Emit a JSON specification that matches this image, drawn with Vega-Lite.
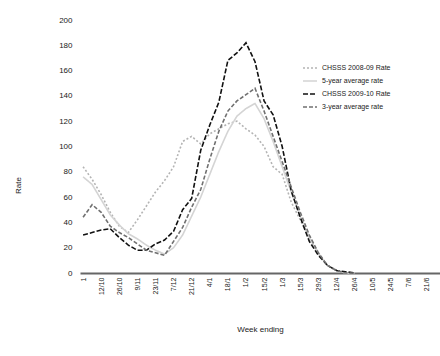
{
"$schema": "https://vega.github.io/schema/vega-lite/v6.json",
"width": 360,
"height": 253,
"autosize": {"type": "none"},
"padding": {"left": 80, "top": 20, "right": 0, "bottom": 83},
"background": "white",
"config": {"view": {"stroke": null}, "font": "Liberation Sans"},
"data": {"values": [
{"s":"CHSSS 2008-09 Rate","t":0,"v":84},{"s":"CHSSS 2008-09 Rate","t":0.5,"v":74},{"s":"CHSSS 2008-09 Rate","t":1,"v":62},{"s":"CHSSS 2008-09 Rate","t":1.5,"v":48},{"s":"CHSSS 2008-09 Rate","t":2,"v":37},{"s":"CHSSS 2008-09 Rate","t":2.5,"v":32},{"s":"CHSSS 2008-09 Rate","t":3,"v":42},{"s":"CHSSS 2008-09 Rate","t":3.5,"v":53},{"s":"CHSSS 2008-09 Rate","t":4,"v":64},{"s":"CHSSS 2008-09 Rate","t":4.5,"v":73},{"s":"CHSSS 2008-09 Rate","t":5,"v":84},{"s":"CHSSS 2008-09 Rate","t":5.5,"v":104},{"s":"CHSSS 2008-09 Rate","t":6,"v":108},{"s":"CHSSS 2008-09 Rate","t":6.5,"v":102},{"s":"CHSSS 2008-09 Rate","t":7,"v":110},{"s":"CHSSS 2008-09 Rate","t":7.5,"v":114},{"s":"CHSSS 2008-09 Rate","t":8,"v":118},{"s":"CHSSS 2008-09 Rate","t":8.5,"v":120},{"s":"CHSSS 2008-09 Rate","t":9,"v":114},{"s":"CHSSS 2008-09 Rate","t":9.5,"v":109},{"s":"CHSSS 2008-09 Rate","t":10,"v":100},{"s":"CHSSS 2008-09 Rate","t":10.5,"v":84},{"s":"CHSSS 2008-09 Rate","t":11,"v":78},{"s":"CHSSS 2008-09 Rate","t":11.5,"v":56},{"s":"CHSSS 2008-09 Rate","t":12,"v":42},{"s":"CHSSS 2008-09 Rate","t":12.5,"v":28},{"s":"CHSSS 2008-09 Rate","t":13,"v":16},{"s":"CHSSS 2008-09 Rate","t":13.5,"v":6},{"s":"CHSSS 2008-09 Rate","t":14,"v":2},{"s":"CHSSS 2008-09 Rate","t":14.5,"v":0},{"s":"CHSSS 2008-09 Rate","t":15,"v":0},
{"s":"5-year average rate","t":0,"v":76},{"s":"5-year average rate","t":0.5,"v":70},{"s":"5-year average rate","t":1,"v":58},{"s":"5-year average rate","t":1.5,"v":46},{"s":"5-year average rate","t":2,"v":38},{"s":"5-year average rate","t":2.5,"v":31},{"s":"5-year average rate","t":3,"v":27},{"s":"5-year average rate","t":3.5,"v":22},{"s":"5-year average rate","t":4,"v":18},{"s":"5-year average rate","t":4.5,"v":15},{"s":"5-year average rate","t":5,"v":20},{"s":"5-year average rate","t":5.5,"v":30},{"s":"5-year average rate","t":6,"v":45},{"s":"5-year average rate","t":6.5,"v":60},{"s":"5-year average rate","t":7,"v":78},{"s":"5-year average rate","t":7.5,"v":96},{"s":"5-year average rate","t":8,"v":112},{"s":"5-year average rate","t":8.5,"v":124},{"s":"5-year average rate","t":9,"v":130},{"s":"5-year average rate","t":9.5,"v":134},{"s":"5-year average rate","t":10,"v":122},{"s":"5-year average rate","t":10.5,"v":104},{"s":"5-year average rate","t":11,"v":84},{"s":"5-year average rate","t":11.5,"v":64},{"s":"5-year average rate","t":12,"v":45},{"s":"5-year average rate","t":12.5,"v":28},{"s":"5-year average rate","t":13,"v":15},{"s":"5-year average rate","t":13.5,"v":6},{"s":"5-year average rate","t":14,"v":2},{"s":"5-year average rate","t":14.5,"v":0},{"s":"5-year average rate","t":15,"v":0},
{"s":"CHSSS 2009-10 Rate","t":0,"v":30},{"s":"CHSSS 2009-10 Rate","t":0.5,"v":32},{"s":"CHSSS 2009-10 Rate","t":1,"v":34},{"s":"CHSSS 2009-10 Rate","t":1.5,"v":35},{"s":"CHSSS 2009-10 Rate","t":2,"v":28},{"s":"CHSSS 2009-10 Rate","t":2.5,"v":22},{"s":"CHSSS 2009-10 Rate","t":3,"v":18},{"s":"CHSSS 2009-10 Rate","t":3.5,"v":18},{"s":"CHSSS 2009-10 Rate","t":4,"v":23},{"s":"CHSSS 2009-10 Rate","t":4.5,"v":26},{"s":"CHSSS 2009-10 Rate","t":5,"v":33},{"s":"CHSSS 2009-10 Rate","t":5.5,"v":50},{"s":"CHSSS 2009-10 Rate","t":6,"v":59},{"s":"CHSSS 2009-10 Rate","t":6.5,"v":97},{"s":"CHSSS 2009-10 Rate","t":7,"v":117},{"s":"CHSSS 2009-10 Rate","t":7.5,"v":135},{"s":"CHSSS 2009-10 Rate","t":8,"v":168},{"s":"CHSSS 2009-10 Rate","t":8.5,"v":174},{"s":"CHSSS 2009-10 Rate","t":9,"v":182},{"s":"CHSSS 2009-10 Rate","t":9.5,"v":167},{"s":"CHSSS 2009-10 Rate","t":10,"v":136},{"s":"CHSSS 2009-10 Rate","t":10.5,"v":125},{"s":"CHSSS 2009-10 Rate","t":11,"v":100},{"s":"CHSSS 2009-10 Rate","t":11.5,"v":65},{"s":"CHSSS 2009-10 Rate","t":12,"v":44},{"s":"CHSSS 2009-10 Rate","t":12.5,"v":25},{"s":"CHSSS 2009-10 Rate","t":13,"v":14},{"s":"CHSSS 2009-10 Rate","t":13.5,"v":6},{"s":"CHSSS 2009-10 Rate","t":14,"v":2},{"s":"CHSSS 2009-10 Rate","t":14.5,"v":1},{"s":"CHSSS 2009-10 Rate","t":15,"v":0},
{"s":"3-year average rate","t":0,"v":44},{"s":"3-year average rate","t":0.5,"v":54},{"s":"3-year average rate","t":1,"v":48},{"s":"3-year average rate","t":1.5,"v":37},{"s":"3-year average rate","t":2,"v":32},{"s":"3-year average rate","t":2.5,"v":28},{"s":"3-year average rate","t":3,"v":23},{"s":"3-year average rate","t":3.5,"v":18},{"s":"3-year average rate","t":4,"v":16},{"s":"3-year average rate","t":4.5,"v":14},{"s":"3-year average rate","t":5,"v":25},{"s":"3-year average rate","t":5.5,"v":36},{"s":"3-year average rate","t":6,"v":52},{"s":"3-year average rate","t":6.5,"v":66},{"s":"3-year average rate","t":7,"v":90},{"s":"3-year average rate","t":7.5,"v":112},{"s":"3-year average rate","t":8,"v":128},{"s":"3-year average rate","t":8.5,"v":136},{"s":"3-year average rate","t":9,"v":141},{"s":"3-year average rate","t":9.5,"v":146},{"s":"3-year average rate","t":10,"v":128},{"s":"3-year average rate","t":10.5,"v":108},{"s":"3-year average rate","t":11,"v":88},{"s":"3-year average rate","t":11.5,"v":68},{"s":"3-year average rate","t":12,"v":48},{"s":"3-year average rate","t":12.5,"v":30},{"s":"3-year average rate","t":13,"v":16},{"s":"3-year average rate","t":13.5,"v":6},{"s":"3-year average rate","t":14,"v":2},{"s":"3-year average rate","t":14.5,"v":0},{"s":"3-year average rate","t":15,"v":0}
]},
"mark": {"type": "line", "strokeWidth": 1.6},
"encoding": {
"x": {"field": "t", "type": "quantitative",
 "scale": {"domain": [-0.17, 19.72], "nice": false, "zero": false},
 "axis": {"values": [0,1,2,3,4,5,6,7,8,9,10,11,12,13,14,15,16,17,18,19],
  "labelExpr": "['1','12/10','26/10','9/11','23/11','7/12','21/12','4/1','18/1','1/2','15/2','1/3','15/3','29/3','12/4','26/4','10/5','24/5','7/6','21/6'][datum.value]",
  "labelAngle": -90, "labelAlign": "right", "labelBaseline": "middle", "labelFontSize": 7, "labelColor": "#222", "labelPadding": 4,
  "grid": false, "ticks": false, "domainColor": "#666", "domainWidth": 2,
  "title": "Week ending", "titleFontSize": 8, "titleFontWeight": "normal", "titleColor": "#222", "titleY": 56, "titleBaseline": "middle"}},
"y": {"field": "v", "type": "quantitative",
 "scale": {"domain": [0, 200], "nice": false},
 "axis": {"values": [0,20,40,60,80,100,120,140,160,180,200], "grid": false, "ticks": false, "domain": false,
  "labelFontSize": 8, "labelColor": "#222", "labelPadding": 8,
  "title": "Rate", "titleFontSize": 8, "titleFontWeight": "normal", "titleColor": "#222", "titleX": -58, "titleY": 165}},
"color": {"field": "s", "type": "nominal", "title": null,
 "sort": ["CHSSS 2008-09 Rate","5-year average rate","CHSSS 2009-10 Rate","3-year average rate"],
 "scale": {"domain": ["CHSSS 2008-09 Rate","5-year average rate","CHSSS 2009-10 Rate","3-year average rate"], "range": ["#b4b4b4","#d4d4d4","#111111","#707070"]},
 "legend": {"orient": "none", "legendX": 222, "legendY": 40, "symbolType": "stroke", "symbolSize": 196, "symbolStrokeWidth": 1.6, "labelFontSize": 7, "labelColor": "#222", "rowPadding": 1, "labelLimit": 120}},
"strokeDash": {"field": "s", "type": "nominal", "title": null,
 "sort": ["CHSSS 2008-09 Rate","5-year average rate","CHSSS 2009-10 Rate","3-year average rate"],
 "scale": {"domain": ["CHSSS 2008-09 Rate","5-year average rate","CHSSS 2009-10 Rate","3-year average rate"], "range": [[2,2],[1,0],[5,2],[4,2]]}}
}
}
